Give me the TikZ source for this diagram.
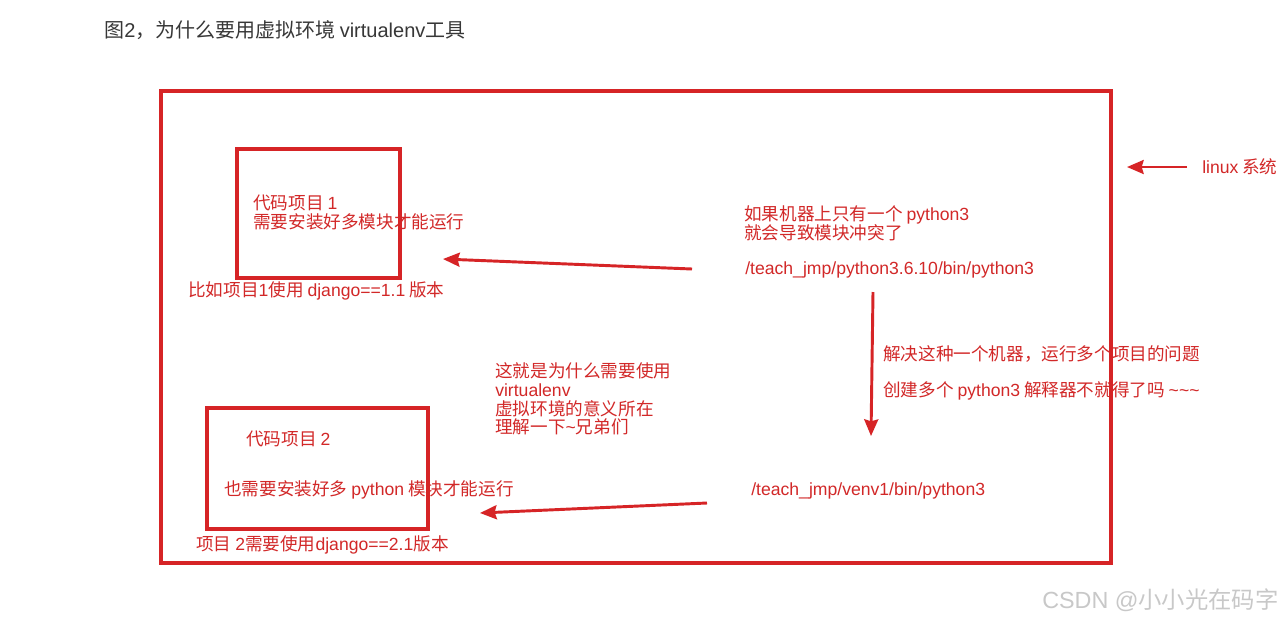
\documentclass[tikz,border=0pt]{standalone}
\usepackage{fontspec}
\setmainfont{Noto Sans CJK SC}
\newfontfamily\lat{Liberation Sans}
\usetikzlibrary{arrows.meta}
\definecolor{rd}{RGB}{214,36,38}
\definecolor{tx}{RGB}{210,40,40}
\definecolor{ttl}{RGB}{55,55,55}
\definecolor{wm}{RGB}{200,200,200}
\newcommand{\tld}{{\lat\textasciitilde}}
\newcommand{\gp}{\hspace{0.22em}}
\tikzset{
  px/.style={x={(0.75pt,0)},y={(0,-0.75pt)}},
  frame/.style={draw=rd,line width=2.3pt},
  lbl/.style={text=tx,font=\fontsize{13.2}{14.2}\selectfont,inner sep=0pt,anchor=west,align=left},
  arr/.style={draw=rd,line width=2.2pt,-{Stealth[length=12.5pt,width=10.5pt,inset=1.5pt]}},
}
\begin{document}
\begin{tikzpicture}[px]
\useasboundingbox (0,0) rectangle (1284,622);
\fill[white] (0,0) rectangle (1284,622);
\node[text=ttl,font=\fontsize{15}{16}\selectfont,inner sep=0pt,anchor=west] (title) at (104,30) {图{\lat 2}，为什么要用虚拟环境\gp{\lat virtualenv}工具};
\draw[frame] (161,91) rectangle (1111,563);
\coordinate (sysedge) at (1127,167);
\coordinate (systail) at (1187,167);
\draw[arr,line width=2pt] (systail) -- (sysedge);
\node[lbl] (linux) at (1202,167) {{\lat linux}\gp 系统};
% project 1
\draw[frame] (237,149) rectangle (400,278);
\node[lbl] (p1) at (253,212.5) {代码项目\gp{\lat 1}\\需要安装好多模块才能运行};
\node[lbl] (p1v) at (188,291) {比如项目{\lat 1}使用\gp{\lat django==1.1}\gp 版本};
% right texts
\node[lbl] (warn) at (744,223) {如果机器上只有一个\gp{\lat python3}\\就会导致模块冲突了};
\node[lbl] (py) at (745,270) {\lat /teach\_jmp/python3.6.10/bin/python3};
\coordinate (a1s) at (692,269);
\coordinate (a1e) at (443,259);
\draw[arr] (a1s) -- (a1e);
\coordinate (a2s) at (873,292);
\coordinate (a2e) at (871,436);
\draw[arr] (a2s) -- (a2e);
\node[lbl] (sol) at (883,354) {解决这种一个机器，运行多个项目的问题};
\node[lbl] (mk) at (883,391) {创建多个\gp{\lat python3}\gp 解释器不就得了吗\gp\tld\tld\tld};
\node[lbl,font=\fontsize{13.2}{14}\selectfont] (why) at (495,399) {这就是为什么需要使用\\{\lat virtualenv}\\虚拟环境的意义所在\\理解一下\tld 兄弟们};
% project 2
\draw[frame] (207,408) rectangle (428,529);
\node[lbl] (p2) at (246,439) {代码项目\gp{\lat 2}};
\node[lbl] (p2t) at (224,490) {也需要安装好多\gp{\lat python}\gp 模块才能运行};
\node[lbl] (p2v) at (196,545) {项目\gp{\lat 2}需要使用{\lat django==2.1}版本};
\node[lbl] (venv) at (751,491) {\lat /teach\_jmp/venv1/bin/python3};
\coordinate (a3s) at (707,503);
\coordinate (a3e) at (480,513);
\draw[arr] (a3s) -- (a3e);
\node[text=wm,font=\fontsize{17.5}{19}\selectfont,inner sep=0pt,anchor=west] (wmk) at (1042,600) {{\lat CSDN @}小小光在码字};
\end{tikzpicture}
\end{document}
